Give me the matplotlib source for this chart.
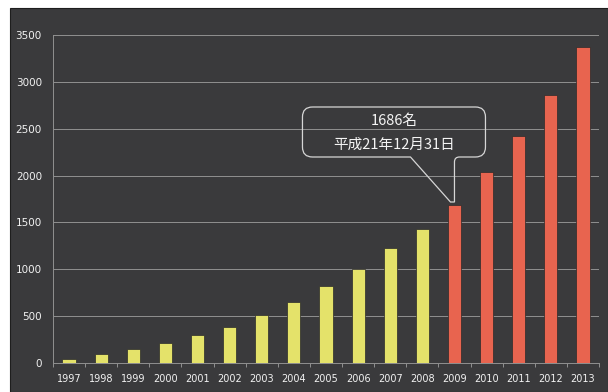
import matplotlib
matplotlib.use("Agg")
import matplotlib.pyplot as plt
import matplotlib.transforms as mtransforms
from matplotlib.path import Path
from matplotlib.patches import PathPatch, Rectangle
import numpy as np

# yearly counts
years = ['1997', '1998', '1999', '2000', '2001', '2002', '2003', '2004', '2005',
         '2006', '2007', '2008', '2009', '2010', '2011', '2012', '2013']
counts = [40, 100, 150, 210, 300, 380, 510, 650, 825,
          1000, 1225, 1425, 1686, 2035, 2425, 2865, 3375]
highlight_from = '2009'
callout_year = '2009'
callout_lines = ['1686名', '平成21年12月31日']

BG = '#3a3a3c'
YELLOW = '#e4e26a'
RED = '#e8644f'
LINE = '#d6d6d6'

fig = plt.figure(figsize=(6.08, 3.92), dpi=100, facecolor='white')
# dark panel behind the whole chart
fig.patches.append(Rectangle((10 / 608, 0), 598 / 608, 384 / 392,
                             transform=fig.transFigure, facecolor=BG,
                             edgecolor='#1e1e1e', linewidth=0.8, zorder=-1))

ax = fig.add_axes([53 / 608, 1 - 363 / 392, 546 / 608, 328 / 392])
ax.set_zorder(1)
ax.set_facecolor(BG)

x = np.arange(len(years))
split = years.index(highlight_from)
colors = [YELLOW if i < split else RED for i in range(len(years))]
ax.bar(x, counts, width=0.41, color=colors, edgecolor='#2a2a2a',
       linewidth=0.5, zorder=3)

ax.set_xlim(-0.5, len(years) - 0.5)
ax.set_ylim(0, 3500)
ax.set_yticks(np.arange(0, 3501, 500))
ax.set_xticks(x)
ax.set_xticklabels(years)
ax.set_xticks(np.arange(-0.5, len(years), 1), minor=True)

ax.grid(axis='y', color='#9e9e9e', linewidth=0.6, zorder=1)
for side in ('top', 'right'):
    ax.spines[side].set_visible(False)
for side in ('left', 'bottom'):
    ax.spines[side].set_color('#909090')
    ax.spines[side].set_linewidth(0.7)

ax.tick_params(axis='y', length=0, pad=8, labelsize=7.5, labelcolor='#f2f2f2')
ax.tick_params(axis='x', which='major', length=0, pad=8, labelsize=7,
               labelcolor='#f2f2f2')
ax.tick_params(axis='x', which='minor', length=3, color='#909090', width=0.7)

# callout pointing to the top of the highlighted bar
ci = years.index(callout_year)
cy = counts[ci]
L, R, B, T, r, q = -152, 31, 48, 98, 10, 5
verts = [
    (L + r, T), (R - r, T), (R, T), (R, T - r),
    (R, B + r), (R, B), (R - r, B),
    (q, B), (0, B), (0, B - q),
    (0, 3), (-4, 3), (-44, B),
    (L + r, B), (L, B), (L, B + r),
    (L, T - r), (L, T), (L + r, T),
]
codes = [Path.MOVETO, Path.LINETO, Path.CURVE3, Path.CURVE3,
         Path.LINETO, Path.CURVE3, Path.CURVE3,
         Path.LINETO, Path.CURVE3, Path.CURVE3,
         Path.LINETO, Path.LINETO, Path.LINETO,
         Path.LINETO, Path.CURVE3, Path.CURVE3,
         Path.LINETO, Path.CURVE3, Path.CURVE3]
trans = mtransforms.Affine2D() + mtransforms.ScaledTranslation(ci, cy, ax.transData)
ax.add_patch(PathPatch(Path(verts, codes), transform=trans, facecolor='none',
                       edgecolor=LINE, linewidth=0.9, zorder=5, clip_on=False))

for line, dy in zip(callout_lines, (84, 60)):
    ax.annotate(line, xy=(ci, cy), xytext=(-60, dy), textcoords='offset pixels',
                ha='center', va='center', fontsize=10.5, color='#f4f4f4',
                family=['Noto Sans CJK JP', 'DejaVu Sans'], zorder=6)

fig.savefig('out.png', dpi=100, facecolor='white')
